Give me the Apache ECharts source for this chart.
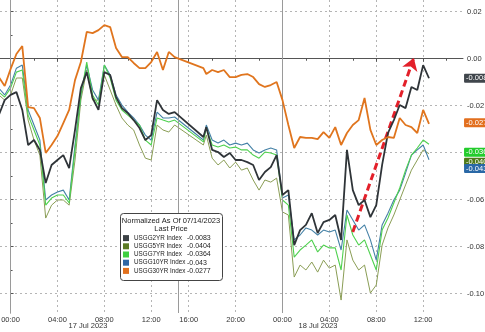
<!DOCTYPE html>
<html><head><meta charset="utf-8">
<script src="https://cdn.jsdelivr.net/npm/echarts@6/dist/echarts.min.js"></script>
<style>html,body{margin:0;padding:0;background:#fff}#c{width:485px;height:332px}</style>
</head><body><div id="c"></div>
<script>
// real hours since 17 Jul 2023 00:00
const hours = [-1,-0.5,0,0.5,1,1.5,2,2.5,3,3.5,4,4.5,5,5.5,6,6.5,7,7.5,8,8.5,9,9.5,10,10.5,11,11.5,12,12.5,13,13.5,14,
  17.25,17.5,18,18.5,19,19.5,20,20.5,21,21.5,22,22.5,23,23.5,24,24.5,25,25.5,26,26.5,27,27.5,28,28.5,29,29.5,30,30.5,31,31.5,32,32.5,33,33.5,34,34.5,35,35.5,36,36.5];

const seriesNames = ['USGG2YR Index','USGG5YR Index','USGG7YR Index','USGG10YR Index','USGG30YR Index'];
const lastPrice = [-0.0083,-0.0404,-0.0364,-0.043,-0.0277];

const usgg2yr = [-0.0240,-0.0176,-0.0154,-0.0142,-0.0218,-0.0367,-0.0346,-0.0388,-0.0529,-0.0452,-0.0431,-0.0410,-0.0465,-0.0303,-0.0125,-0.0057,-0.0167,-0.0218,-0.0057,-0.0069,-0.0163,-0.0210,-0.0231,-0.0261,-0.0295,-0.0346,-0.0325,-0.0176,-0.0218,-0.0235,-0.0227,
  -0.0333,-0.0291,-0.0388,-0.0397,-0.0418,-0.0401,-0.0431,-0.0431,-0.0440,-0.0452,-0.0516,-0.0482,-0.0461,-0.0410,-0.0580,-0.0559,-0.0793,-0.0729,-0.0707,-0.0657,-0.0742,-0.0695,-0.0686,-0.0665,-0.0771,-0.0388,-0.0559,-0.0623,-0.0601,-0.0674,-0.0623,-0.0452,-0.0316,-0.0261,-0.0197,-0.0210,-0.0120,-0.0133,-0.0027,-0.0083];
const usgg5yr = [-0.0154,-0.0176,-0.0154,-0.0082,-0.0082,-0.0261,-0.0346,-0.0410,-0.0678,-0.0623,-0.0601,-0.0601,-0.0623,-0.0431,-0.0176,-0.0048,-0.0176,-0.0176,-0.0069,-0.0133,-0.0197,-0.0252,-0.0282,-0.0303,-0.0367,-0.0423,-0.0431,-0.0282,-0.0303,-0.0312,-0.0282,
  -0.0367,-0.0325,-0.0423,-0.0452,-0.0431,-0.0465,-0.0440,-0.0474,-0.0465,-0.0516,-0.0559,-0.0516,-0.0525,-0.0508,-0.0652,-0.0665,-0.0929,-0.0878,-0.0899,-0.0865,-0.0908,-0.0857,-0.0891,-0.0878,-0.1027,-0.0771,-0.0857,-0.0899,-0.0878,-0.0997,-0.0963,-0.0793,-0.0720,-0.0665,-0.0601,-0.0537,-0.0474,-0.0431,-0.0388,-0.0404];
const usgg7yr = [-0.0142,-0.0163,-0.0125,-0.0057,-0.0048,-0.0240,-0.0303,-0.0367,-0.0623,-0.0593,-0.0580,-0.0580,-0.0614,-0.0388,-0.0154,-0.0014,-0.0154,-0.0197,-0.0027,-0.0082,-0.0176,-0.0218,-0.0240,-0.0261,-0.0282,-0.0346,-0.0367,-0.0252,-0.0261,-0.0269,-0.0261,
  -0.0354,-0.0295,-0.0367,-0.0376,-0.0367,-0.0380,-0.0376,-0.0388,-0.0388,-0.0410,-0.0423,-0.0397,-0.0401,-0.0410,-0.0601,-0.0623,-0.0844,-0.0814,-0.0793,-0.0771,-0.0822,-0.0793,-0.0805,-0.0805,-0.0899,-0.0665,-0.0750,-0.0793,-0.0771,-0.0835,-0.0899,-0.0729,-0.0678,-0.0614,-0.0550,-0.0474,-0.0410,-0.0380,-0.0346,-0.0364];
const usgg10yr = [-0.0125,-0.0154,-0.0112,-0.0040,-0.0027,-0.0218,-0.0282,-0.0346,-0.0601,-0.0580,-0.0567,-0.0559,-0.0601,-0.0367,-0.0154,-0.0027,-0.0133,-0.0176,-0.0027,-0.0069,-0.0154,-0.0197,-0.0227,-0.0252,-0.0282,-0.0325,-0.0346,-0.0227,-0.0252,-0.0252,-0.0248,
  -0.0346,-0.0282,-0.0346,-0.0359,-0.0346,-0.0367,-0.0359,-0.0367,-0.0359,-0.0388,-0.0401,-0.0388,-0.0380,-0.0388,-0.0593,-0.0580,-0.0771,-0.0750,-0.0720,-0.0729,-0.0750,-0.0729,-0.0737,-0.0729,-0.0814,-0.0644,-0.0686,-0.0729,-0.0707,-0.0771,-0.0857,-0.0707,-0.0657,-0.0601,-0.0559,-0.0486,-0.0410,-0.0388,-0.0367,-0.0430];
const usgg30yr = [-0.0078,-0.0116,-0.0044,0.0020,0.0054,-0.0206,-0.0210,-0.0252,-0.0401,-0.0367,-0.0329,-0.0274,-0.0218,-0.0091,-0.0014,0.0114,0.0109,0.0122,0.0143,0.0135,0.0046,0.0007,0.0007,-0.0018,-0.0040,-0.0040,-0.0014,0.0029,-0.0048,0.0029,0.0007,
  -0.0040,-0.0065,-0.0048,-0.0057,-0.0048,-0.0078,-0.0078,-0.0069,-0.0065,-0.0078,-0.0108,-0.0120,-0.0112,-0.0099,-0.0176,-0.0282,-0.0380,-0.0333,-0.0337,-0.0337,-0.0342,-0.0312,-0.0337,-0.0291,-0.0367,-0.0316,-0.0282,-0.0261,-0.0167,-0.0303,-0.0367,-0.0346,-0.0333,-0.0337,-0.0252,-0.0282,-0.0291,-0.0316,-0.0218,-0.0277];

const xTickHours = [0,4,8,12,16,20,24,28,32,36];
const xTickLabels = ['00:00','04:00','08:00','12:00','16:00','20:00','00:00','04:00','08:00','12:00'];
const xMinorHours = [2,6,10,18,22,26,30,34,38];
const dayLabels = ['17 Jul 2023','18 Jul 2023'];
const separatorHours = [0,14.33,24];
const yTicks = [-0.10,-0.08,-0.06,-0.04,-0.02,0.00,0.02];
const yMinorTicks = [-0.09,-0.07,-0.05,-0.03,-0.01,0.01];
const arrowFrom = [30.0,-0.0737];
const arrowTo = [35.2,0.0003];
const legendTitle = ['Normalized As Of 07/14/2023','Last Price'];

// session break compresses the time axis
const BREAK_AT = 14.33, BREAK_LEN = 0.8;
function cx(t){ return t <= BREAK_AT ? t : t - BREAK_LEN; }
const X_MIN = -0.9, X_MAX = 38.6;

const FONT = 'Liberation Sans';
const lineColors = ['#2f3438','#8a9d55','#4fd14f','#4481a6','#e0751e'];
const swatchColors = ['#3c4246','#5a7a24','#3fcf3f','#2f66a3','#e2711d'];
const boxColors = ['#40464c','#4f7a1a','#23cc2c','#2a68a6','#e26f1e'];
const lineWidths = [1.8,1,1.1,1.1,1.8];
const zs = [5,2,4,3,6];
const boxOffsets = [0,8.5,8,8.7,-1];
const values = [usgg2yr,usgg5yr,usgg7yr,usgg10yr,usgg30yr];

const series = seriesNames.map((name,i)=>({
  name, type:'line', showSymbol:false, symbol:'none', z:zs[i],
  data: hours.map((t,k)=>[cx(t), values[i][k]]),
  lineStyle:{color:lineColors[i], width:lineWidths[i]},
  itemStyle:{color:swatchColors[i]},
  markPoint:{
    symbol:'rect', symbolSize:0.1, silent:true, animation:false,
    data:[{coord:[X_MAX, lastPrice[i]], value:lastPrice[i]}],
    label:{show:true, position:'right', distance:1, offset:[0,boxOffsets[i]],
      formatter:String(lastPrice[i]), backgroundColor:boxColors[i], color:'#fff',
      padding:[1,2,0,2], fontSize:7.5, lineHeight:8, fontFamily:FONT, borderRadius:1}
  }
}));
// session / day separators
series[1].markLine = {silent:true, symbol:['none','none'], animation:false, label:{show:false},
  lineStyle:{color:'#9a9a9a', type:'solid', width:1},
  data: separatorHours.map(t=>({xAxis:cx(t)}))};
// annotation arrow
series.push({type:'line', name:'arrow', data:[], z:20, markLine:{silent:true, animation:false,
  symbol:['none','arrow'], symbolSize:12, label:{show:false},
  lineStyle:{color:'#e3202a', type:[7,4], width:3},
  data:[[{coord:[cx(arrowFrom[0]),arrowFrom[1]]},{coord:[cx(arrowTo[0]),arrowTo[1]]}]]}});

const LEG_TOP = 234, ROW_H = 8.2;
const graphics = [
  {type:'rect', z:9, shape:{x:120.5,y:213.5,width:102,height:67,r:3}, style:{fill:'#fff', stroke:'#444', lineWidth:1}},
  {type:'text', z:10, x:171, y:221, style:{text:legendTitle[0], align:'center', verticalAlign:'middle', fontSize:7.5, fill:'#222', fontFamily:FONT}},
  {type:'text', z:10, x:171, y:229, style:{text:legendTitle[1], align:'center', verticalAlign:'middle', fontSize:7.5, fill:'#222', fontFamily:FONT}},
  {type:'text', z:10, x:88, y:326, style:{text:dayLabels[0], align:'center', verticalAlign:'middle', fontSize:7.5, fill:'#333', fontFamily:FONT}},
  {type:'text', z:10, x:318, y:326, style:{text:dayLabels[1], align:'center', verticalAlign:'middle', fontSize:7.5, fill:'#333', fontFamily:FONT}}
];
lastPrice.forEach((p,i)=>graphics.push({type:'text', z:11, x:187, y:LEG_TOP+ROW_H*(i+0.5),
  style:{text:String(p), align:'left', verticalAlign:'middle', fontSize:7, fill:'#222', fontFamily:FONT}}));

const xTickPos = xTickHours.map(cx);
const chart = echarts.init(document.getElementById('c'), null, {renderer:'canvas'});
chart.setOption({
  animation:false,
  backgroundColor:'#fff',
  grid:{left:0, right:22, top:0, bottom:19, containLabel:false, outerBoundsMode:'none'},
  xAxis:[{
    type:'value', min:X_MIN, max:X_MAX, position:'bottom',
    axisLine:{show:true, lineStyle:{color:'#555', width:1}},
    axisTick:{show:true, length:3, lineStyle:{color:'#555'}, customValues:xTickPos},
    axisLabel:{show:true, customValues:xTickPos, margin:3, fontSize:7.5, color:'#333', fontFamily:FONT,
      formatter:(v)=>{ const i = xTickPos.findIndex(p=>Math.abs(p-v)<1e-6); return i>=0?xTickLabels[i]:''; }},
    splitLine:{show:true, lineStyle:{color:'#b5b5b5', type:[2,3], width:1}}
  },{
    type:'value', min:X_MIN, max:X_MAX, position:'bottom',
    axisLine:{show:false}, axisLabel:{show:false}, splitLine:{show:false},
    axisTick:{show:true, length:2, lineStyle:{color:'#555'}, customValues:xMinorHours.map(cx)}
  }],
  yAxis:[{
    type:'value', min:-0.1082, max:0.025, position:'right',
    axisLine:{show:true, lineStyle:{color:'#555', width:1}},
    axisTick:{show:true, length:3, lineStyle:{color:'#555'}, customValues:yTicks},
    axisLabel:{show:true, customValues:yTicks, margin:4, fontSize:7.5, color:'#333', fontFamily:FONT,
      formatter:(v)=>v.toFixed(2)},
    splitLine:{show:true, lineStyle:{color:'#b5b5b5', type:[2,3], width:1}}
  },{
    type:'value', min:-0.1082, max:0.025, position:'right', offset:0,
    axisLine:{show:false}, axisLabel:{show:false}, splitLine:{show:false},
    axisTick:{show:true, length:2, lineStyle:{color:'#555'}, customValues:yMinorTicks}
  }],
  legend:{
    data: seriesNames.map((n,i)=>({name:n, itemStyle:{color:swatchColors[i]}})),
    orient:'vertical', left:123, top:LEG_TOP, padding:0, itemWidth:6, itemHeight:6, itemGap:0,
    icon:'rect', selectedMode:false, z:10,
    textStyle:{fontSize:6.3, lineHeight:ROW_H, color:'#222', fontFamily:FONT}
  },
  graphic:graphics,
  series
});
</script></body></html>
